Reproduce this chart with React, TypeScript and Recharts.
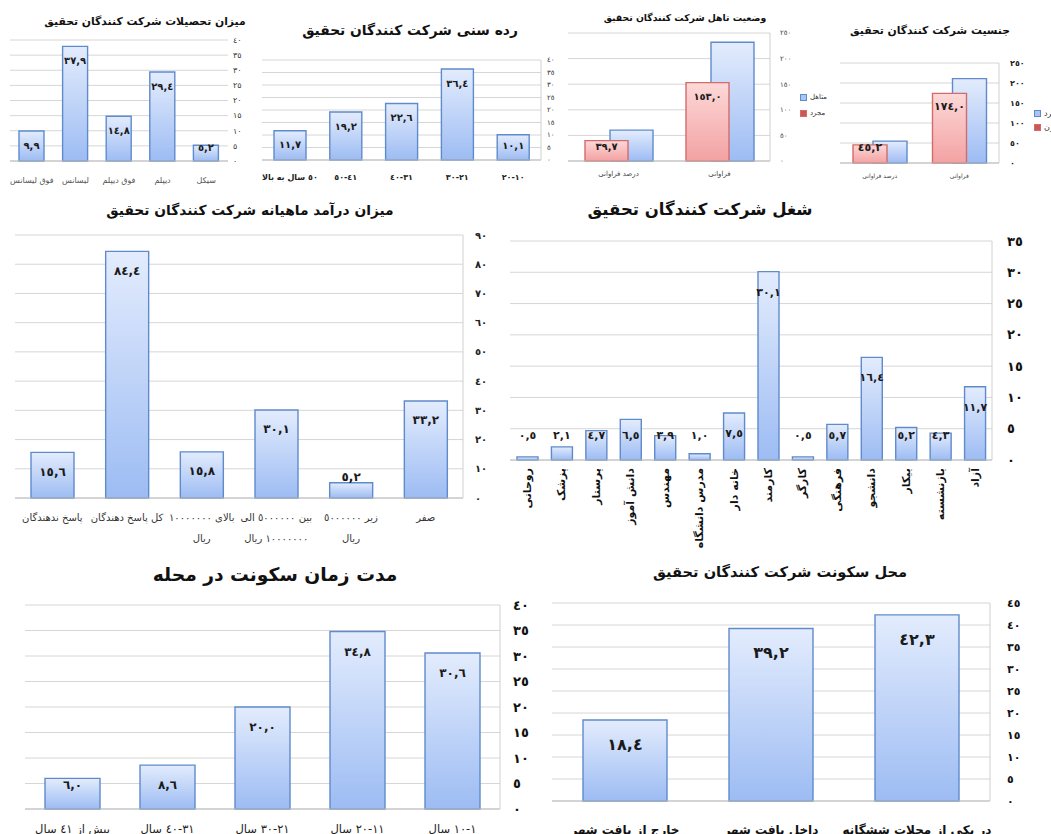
import React from 'react'
import { BarChart, Bar, XAxis, YAxis, CartesianGrid, LabelList } from 'recharts'

const FONT = '"DejaVu Sans", sans-serif'
const AR_DIGITS = '٠١٢٣٤٥٦٧٨٩'
const ar = (s: string) => s.replace(/[0-9]/g, d => AR_DIGITS[Number(d)])
const arNum = (v: number, dec: number) => ar(v.toFixed(dec)).replace('.', ',')

// میزان تحصیلات
const eduCats = ['فوق لیسانس', 'لیسانس', 'فوق دیپلم', 'دیپلم', 'سیکل']
const eduValues = [9.9, 37.9, 14.8, 29.4, 5.2]
const eduTicks = [0, 5, 10, 15, 20, 25, 30, 35, 40]

// رده سنی
const ageCats = ['٥٠ سال به بالا', '٤١-٥٠', '٣١-٤٠', '٢١-٣٠', '١٠-٢٠']
const ageValues = [11.7, 19.2, 22.6, 36.4, 10.1]
const ageTicks = [0, 5, 10, 15, 20, 25, 30, 35, 40]

// وضعیت تاهل
const maritalCats = ['درصد فراوانی', 'فراوانی']
const maritalMarried = [60.3, 232]
const maritalSingle = [39.7, 153.0]
const maritalTicks = [0, 50, 100, 150, 200, 250]

// جنسیت
const genderCats = ['درصد فراوانی', 'فراوانی']
const genderMale = [54.8, 211]
const genderFemale = [45.2, 174.0]
const genderTicks = [0, 50, 100, 150, 200, 250]

// درآمد ماهیانه
const incomeCats = ['پاسخ ندهندگان', 'کل پاسخ دهندگان', 'بالای ١٠٠٠٠٠٠٠\nریال', 'بین ٥٠٠٠٠٠٠ الی\n١٠٠٠٠٠٠٠ ریال', 'زیر ٥٠٠٠٠٠٠\nریال', 'صفر']
const incomeValues = [15.6, 84.4, 15.8, 30.1, 5.2, 33.2]
const incomeTicks = [0, 10, 20, 30, 40, 50, 60, 70, 80, 90]

// شغل
const jobCats = ['روحانی', 'پزشک', 'پرستار', 'دانش آموز', 'مهندس', 'مدرس دانشگاه', 'خانه دار', 'کارمند', 'کارگر', 'فرهنگی', 'دانشجو', 'بیکار', 'بازنشسته', 'آزاد']
const jobValues = [0.5, 2.1, 4.7, 6.5, 3.9, 1.0, 7.5, 30.1, 0.5, 5.7, 16.4, 5.2, 4.3, 11.7]
const jobTicks = [0, 5, 10, 15, 20, 25, 30, 35]

// مدت زمان سکونت
const stayCats = ['بیش از ٤١ سال', '٣١-٤٠ سال', '٢١-٣٠ سال', '١١-٢٠ سال', '١-١٠ سال']
const stayValues = [6.0, 8.6, 20.0, 34.8, 30.6]
const stayTicks = [0, 5, 10, 15, 20, 25, 30, 35, 40]

// محل سکونت
const placeCats = ['خارج از بافت شهر', 'داخل بافت شهر', 'در یکی از محلات ششگانه']
const placeValues = [18.4, 39.2, 42.3]
const placeTicks = [0, 5, 10, 15, 20, 25, 30, 35, 40, 45]

const COLORS = {
  blue: { top: '#e3ecfd', bottom: '#9dbcf3', stroke: '#5f8bcc' },
  red: { top: '#fdd8d8', bottom: '#f3a2a2', stroke: '#d46b6b' },
}

type Series = { key: string; name: string; values: number[]; color: 'blue' | 'red'; labels: boolean }

type Cfg = {
  id: string
  box: [number, number, number, number]
  plot: [number, number, number, number]
  title: string
  titleX: number
  titleY: number
  titleSize: number
  cats: string[]
  series: Series[]
  ticks: number[]
  barSize: number
  barGap?: number
  yWidth: number
  yLab: { size: number; weight: number; color: string; margin: number }
  xLab: { size: number; weight: number; color: string; dy: number; lh?: number; rotate?: boolean }
  val: { size: number; inside: number; minUp: number }
  border: boolean
  legend?: { x: number; y: number; gap: number; size: number; items: { name: string; color: 'blue' | 'red' }[] }
}

function CatTick(props: any) {
  const { x, y, payload, st } = props
  const lines = String(payload.value).split('\n')
  if (st.rotate) {
    const tx = x + st.size * 0.35
    const ty = y + st.dy
    return (
      <text x={tx} y={ty} transform={`rotate(-90, ${tx}, ${ty})`} textAnchor="end"
        fontSize={st.size} fontWeight={st.weight} fill={st.color} fontFamily={FONT}>
        {lines[0]}
      </text>
    )
  }
  return (
    <text x={x} y={y + st.dy} textAnchor="middle" direction="rtl" fontSize={st.size}
      fontWeight={st.weight} fill={st.color} fontFamily={FONT}>
      {lines.map((l, i) => (
        <tspan key={i} x={x} dy={i === 0 ? 0 : st.lh}>{l}</tspan>
      ))}
    </text>
  )
}

function valueLabel(st: Cfg['val']) {
  return (p: any) => {
    const vb = p.viewBox ?? p
    const x = Number(vb.x), y = Number(vb.y), w = Number(vb.width), h = Number(vb.height)
    const top = Math.min(y, y + h)
    const bottom = Math.max(y, y + h)
    const cy = Math.min(top + st.inside, bottom - st.minUp)
    return (
      <text x={x + w / 2} y={cy} dy="0.36em" textAnchor="middle" fontSize={st.size}
        fontWeight="bold" fill="#1a1a1a" fontFamily={FONT}>
        {arNum(Number(p.value), 1)}
      </text>
    )
  }
}

function Panel({ cfg }: { cfg: Cfg }) {
  const [bl, bt, bw, bh] = cfg.box
  const [x0, y0, x1, y1] = cfg.plot
  const margin = { left: x0 - bl, top: y0 - bt, right: bl + bw - x1 - cfg.yWidth, bottom: 0 }
  const xH = bt + bh - y1
  const rows = cfg.cats.map((c, i) => {
    const r: any = { cat: c }
    cfg.series.forEach(s => { r[s.key] = s.values[i] })
    return r
  })
  const max = cfg.ticks[cfg.ticks.length - 1]
  return (
    <div style={{ position: 'absolute', left: bl, top: bt, width: bw, height: bh, background: '#fff', overflow: 'hidden' }}>
      <BarChart width={bw} height={bh} data={rows} margin={margin} barSize={cfg.barSize}
        barGap={cfg.barGap ?? 4}>
        <defs>
          {(['blue', 'red'] as const).map(c => (
            <linearGradient key={c} id={`${cfg.id}-${c}`} x1="0" y1="0" x2="0" y2="1">
              <stop offset="0" stopColor={COLORS[c].top} />
              <stop offset="1" stopColor={COLORS[c].bottom} />
            </linearGradient>
          ))}
        </defs>
        <CartesianGrid vertical={false} stroke="#d6d6d6" strokeWidth={1} />
        <XAxis dataKey="cat" interval={0} height={xH} tickSize={0} tickMargin={0}
          axisLine={{ stroke: '#bdbdbd', strokeWidth: 1.2 }} tickLine={false}
          tick={<CatTick st={cfg.xLab} />} />
        <YAxis orientation="right" width={cfg.yWidth} domain={[0, max]} ticks={cfg.ticks}
          interval={0} tickSize={0} tickMargin={cfg.yLab.margin} tickLine={false}
          axisLine={cfg.border ? { stroke: '#d0d0d0' } : false}
          tickFormatter={(v: number) => ar(String(v))}
          tick={{ fontSize: cfg.yLab.size, fontWeight: cfg.yLab.weight, fill: cfg.yLab.color, fontFamily: FONT }} />
        {cfg.series.map(s => (
          <Bar key={s.key} dataKey={s.key} name={s.name} fill={`url(#${cfg.id}-${s.color})`}
            stroke={COLORS[s.color].stroke} strokeWidth={1.4} isAnimationActive={false}>
            {s.labels && <LabelList dataKey={s.key} content={valueLabel(cfg.val)} />}
          </Bar>
        ))}
      </BarChart>
      <div style={{
        position: 'absolute', left: cfg.titleX - bl - 250, width: 500, top: cfg.titleY - bt - cfg.titleSize * 0.75,
        textAlign: 'center', direction: 'rtl', fontSize: cfg.titleSize, fontWeight: 'bold',
        lineHeight: 1.5, color: '#111', whiteSpace: 'nowrap', fontFamily: FONT,
      }}>{cfg.title}</div>
      {cfg.legend && cfg.legend.items.map((it, i) => (
        <div key={it.name} style={{
          position: 'absolute', left: cfg.legend!.x - bl, top: cfg.legend!.y - bt + i * cfg.legend!.gap - 5,
          height: 10, display: 'flex', alignItems: 'center', gap: 3, fontSize: cfg.legend!.size,
          color: '#333', whiteSpace: 'nowrap', fontFamily: FONT,
        }}>
          <span style={{
            width: 5, height: 5, display: 'inline-block',
            background: it.color === 'blue' ? '#a9c5f3' : '#d05656',
            border: `1px solid ${COLORS[it.color].stroke}`,
          }} />
          <span>{it.name}</span>
        </div>
      ))}
    </div>
  )
}

const one = (values: number[]): Series[] => [{ key: 'v', name: 'v', values, color: 'blue', labels: true }]

const configs: Cfg[] = [
  {
    id: 'edu', box: [0, 0, 255, 195], plot: [10, 40, 228, 161],
    title: 'میزان تحصیلات شرکت کنندگان تحقیق', titleX: 145, titleY: 22, titleSize: 10.8,
    cats: eduCats, series: one(eduValues), ticks: eduTicks, barSize: 25, yWidth: 25,
    yLab: { size: 8, weight: 400, color: '#333', margin: 5 },
    xLab: { size: 8, weight: 400, color: '#555', dy: 22 },
    val: { size: 10, inside: 14, minUp: 14 }, border: false,
  },
  {
    id: 'age', box: [255, 0, 305, 195], plot: [262, 60, 541, 160],
    title: 'رده سنی شرکت کنندگان تحقیق', titleX: 410, titleY: 30, titleSize: 13.8,
    cats: ageCats, series: one(ageValues), ticks: ageTicks, barSize: 32, yWidth: 19,
    yLab: { size: 7, weight: 400, color: '#333', margin: 6 },
    xLab: { size: 8, weight: 700, color: '#222', dy: 20 },
    val: { size: 10, inside: 14, minUp: 15 }, border: true,
  },
  {
    id: 'mar', box: [560, 0, 270, 195], plot: [568, 33, 770, 161],
    title: 'وضعیت تاهل شرکت کنندگان تحقیق', titleX: 685, titleY: 18, titleSize: 9.3,
    cats: maritalCats,
    series: [
      { key: 'married', name: 'متاهل', values: maritalMarried, color: 'blue', labels: false },
      { key: 'single', name: 'مجرد', values: maritalSingle, color: 'red', labels: true },
    ],
    ticks: maritalTicks, barSize: 43, barGap: -68, yWidth: 30,
    yLab: { size: 7, weight: 400, color: '#444', margin: 10 },
    xLab: { size: 7, weight: 400, color: '#444', dy: 15 },
    val: { size: 10, inside: 14, minUp: 15 }, border: true,
    legend: { x: 800, y: 97, gap: 16, size: 7, items: [{ name: 'متاهل', color: 'blue' }, { name: 'مجرد', color: 'red' }] },
  },
  {
    id: 'gen', box: [830, 0, 221, 195], plot: [840, 63, 999, 163],
    title: 'جنسیت شرکت کنندگان تحقیق', titleX: 930, titleY: 31, titleSize: 10.8,
    cats: genderCats,
    series: [
      { key: 'male', name: 'مرد', values: genderMale, color: 'blue', labels: false },
      { key: 'female', name: 'زن', values: genderFemale, color: 'red', labels: true },
    ],
    ticks: genderTicks, barSize: 34, barGap: -54, yWidth: 30,
    yLab: { size: 8, weight: 700, color: '#222', margin: 11 },
    xLab: { size: 6, weight: 400, color: '#444', dy: 15 },
    val: { size: 11, inside: 13, minUp: 16 }, border: true,
    legend: { x: 1034, y: 113, gap: 14, size: 8, items: [{ name: 'مرد', color: 'blue' }, { name: 'زن', color: 'red' }] },
  },
  {
    id: 'inc', box: [0, 195, 500, 360], plot: [15, 235, 463, 498],
    title: 'میزان درآمد ماهیانه شرکت کنندگان تحقیق', titleX: 250, titleY: 210, titleSize: 13.8,
    cats: incomeCats, series: one(incomeValues), ticks: incomeTicks, barSize: 43, yWidth: 35,
    yLab: { size: 10, weight: 700, color: '#222', margin: 12 },
    xLab: { size: 10, weight: 400, color: '#333', dy: 23, lh: 21 },
    val: { size: 12, inside: 19, minUp: 21 }, border: true,
  },
  {
    id: 'job', box: [500, 195, 551, 360], plot: [510, 241, 992, 460],
    title: 'شغل شرکت کنندگان تحقیق', titleX: 700, titleY: 210, titleSize: 16.5,
    cats: jobCats, series: one(jobValues), ticks: jobTicks, barSize: 21, yWidth: 40,
    yLab: { size: 13, weight: 700, color: '#111', margin: 15 },
    xLab: { size: 11, weight: 700, color: '#111', dy: 8, rotate: true },
    val: { size: 11, inside: 20, minUp: 25 }, border: true,
  },
  {
    id: 'stay', box: [0, 555, 535, 279], plot: [25, 605, 500, 809],
    title: 'مدت زمان سکونت در محله', titleX: 275, titleY: 575, titleSize: 18.7,
    cats: stayCats, series: one(stayValues), ticks: stayTicks, barSize: 55, yWidth: 35,
    yLab: { size: 13, weight: 700, color: '#111', margin: 13 },
    xLab: { size: 11.5, weight: 400, color: '#222', dy: 24 },
    val: { size: 12, inside: 20, minUp: 24 }, border: true,
  },
  {
    id: 'place', box: [535, 555, 516, 279], plot: [552, 603, 990, 801],
    title: 'محل سکونت شرکت کنندگان تحقیق', titleX: 780, titleY: 572, titleSize: 14.6,
    cats: placeCats, series: one(placeValues), ticks: placeTicks, barSize: 84, yWidth: 40,
    yLab: { size: 11, weight: 700, color: '#111', margin: 17 },
    xLab: { size: 12, weight: 700, color: '#111', dy: 33 },
    val: { size: 16, inside: 24, minUp: 24 }, border: true,
  },
]

export default function App() {
  return (
    <div style={{ position: 'absolute', left: 0, top: 0, width: 1051, height: 834, overflow: 'hidden', background: '#fff', fontFamily: FONT }}>
      {configs.map(c => <Panel key={c.id} cfg={c} />)}
    </div>
  )
}
